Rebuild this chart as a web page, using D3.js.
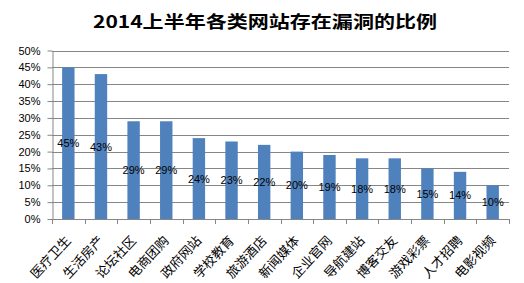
<!DOCTYPE html>
<html><head><meta charset="utf-8">
<script src="https://cdn.jsdelivr.net/npm/d3@7"></script>
<style>body{margin:0;background:#fff;}svg{display:block;}</style>
</head><body>
<script>
const title = "2014上半年各类网站存在漏洞的比例";
const categories = ["医疗卫生","生活房产","论坛社区","电商团购","政府网站","学校教育","旅游酒店","新闻媒体","企业官网","导航建站","博客交友","游戏彩票","人才招聘","电影视频"];
const values = [45,43,29,29,24,23,22,20,19,18,18,15,14,10];
const yTicks = [0,5,10,15,20,25,30,35,40,45,50];

(function(){
const W=524,H=283;
const svg=d3.select("body").append("svg").attr("width",W).attr("height",H);
const left=52,right=509,plotTop=50.5,bottom=219;
const x=d3.scaleBand().domain(categories).range([left,right]).paddingInner(0.62).paddingOuter(0.31);
const y=d3.scaleLinear().domain([0,50]).range([bottom,plotTop]);

svg.append("text").attr("x",93).attr("y",28).attr("textLength",344).attr("lengthAdjust","spacingAndGlyphs")
 .attr("font-family","'Noto Sans CJK SC',sans-serif").attr("font-weight","bold").attr("font-size",17).attr("fill","#000").text(title);

svg.append("g").selectAll("line").data(yTicks.filter(d=>d>0)).join("line")
 .attr("x1",left).attr("x2",right).attr("y1",d=>Math.round(y(d))+0.5).attr("y2",d=>Math.round(y(d))+0.5)
 .attr("stroke","#868686").attr("stroke-width",1);

const ya=svg.append("g").attr("transform",`translate(${left+0.5},0)`)
 .call(d3.axisLeft(y).tickValues(yTicks).tickFormat(d=>d+"%").tickSize(5).tickSizeOuter(0));
ya.select(".domain").attr("stroke","#868686");
ya.selectAll(".tick line").attr("stroke","#868686");
ya.selectAll(".tick text").attr("font-family","'Liberation Sans',Arial,sans-serif").attr("font-size",11).attr("fill","#000").attr("x",-12);

svg.append("g").selectAll("rect").data(values).join("rect")
 .attr("x",(d,i)=>x(categories[i])).attr("width",x.bandwidth())
 .attr("y",d=>y(d)).attr("height",d=>bottom-y(d)).attr("fill","#4F81BD");

const xg=svg.append("g");
xg.append("line").attr("x1",left).attr("x2",right).attr("y1",bottom+0.5).attr("y2",bottom+0.5).attr("stroke","#868686");
xg.selectAll("line.t").data(d3.range(categories.length+1)).join("line").attr("class","t")
 .attr("x1",i=>Math.round(left+i*(right-left)/categories.length)+0.5).attr("x2",i=>Math.round(left+i*(right-left)/categories.length)+0.5)
 .attr("y1",bottom).attr("y2",bottom+5).attr("stroke","#868686");

svg.append("g").selectAll("text").data(values).join("text")
 .attr("x",(d,i)=>x(categories[i])+x.bandwidth()/2).attr("y",d=>(y(d)+bottom)/2+4)
 .attr("text-anchor","middle").attr("font-family","'Liberation Sans',Arial,sans-serif").attr("font-size",11).attr("fill","#000")
 .text(d=>d+"%");

svg.append("g").selectAll("text").data(categories).join("text")
 .attr("transform",d=>`translate(${x(d)+x.bandwidth()/2},${bottom+19}) rotate(-47)`)
 .attr("text-anchor","end").attr("dy","0.35em").attr("font-family","'Noto Sans CJK SC',sans-serif").attr("font-size",13).attr("fill","#000")
 .text(d=>d);
})();
</script>
</body></html>
